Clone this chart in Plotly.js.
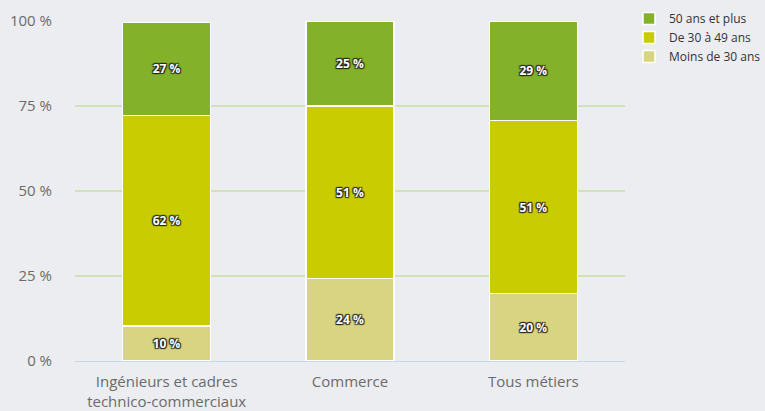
<!DOCTYPE html>
<html><head><meta charset="utf-8">
<script src="https://cdn.plot.ly/plotly-3.0.1.min.js"></script>
<style>html,body{margin:0;padding:0;background:#ecedf0;}</style>
</head><body>
<div id="chart" style="width:765px;height:411px;"></div>
<script>
const categories = ["Ingénieurs et cadres<br>technico-commerciaux", "Commerce", "Tous métiers"];
const moins30 = [10.3, 24.2, 19.8];
const de30a49 = [61.9, 50.8, 50.9];
const plus50 = [27.4, 25.0, 29.3];
const labelsMoins30 = ["10 %", "24 %", "20 %"];
const labelsDe30a49 = ["62 %", "51 %", "51 %"];
const labelsPlus50 = ["27 %", "25 %", "29 %"];
const seriesNames = ["Moins de 30 ans", "De 30 à 49 ans", "50 ans et plus"];
const colors = ["#d9d482", "#c8cc00", "#84b12a"];
const yTicks = [0, 25, 50, 75, 100];
const yTickLabels = ["0 %", "25 %", "50 %", "75 %", "100 %"];

const textFont = {family: "Open Sans, sans-serif", size: 12, color: "#ffffff", weight: 700,
  shadow: "1px 1px 1px #222, -1px -1px 1px #222, 1px -1px 1px #222, -1px 1px 1px #222"};

function mk(vals, labels, name, color) {
  return {type: "bar", x: categories, y: vals, name: name, text: labels,
    textposition: "inside", insidetextanchor: "middle", textangle: 0,
    textfont: textFont, hoverinfo: "none",
    marker: {color: color, line: {color: "#ffffff", width: 1.5}}, width: 0.48};
}
const data = [
  mk(moins30, labelsMoins30, seriesNames[0], colors[0]),
  mk(de30a49, labelsDe30a49, seriesNames[1], colors[1]),
  mk(plus50, labelsPlus50, seriesNames[2], colors[2])
];
const layout = {
  width: 765, height: 411, barmode: "stack",
  paper_bgcolor: "#ecedf0", plot_bgcolor: "#ecedf0",
  margin: {l: 75, r: 140, t: 21, b: 50, autoexpand: false},
  font: {family: "Open Sans, sans-serif", color: "#6b6b6b", size: 14},
  xaxis: {showgrid: false, showline: true, linecolor: "#cdd8e4", linewidth: 1,
    ticks: "", ticklabelstandoff: 7, tickfont: {size: 15, color: "#6b6b6b"}, automargin: false},
  yaxis: {range: [0, 100], tickvals: yTicks, ticktext: yTickLabels,
    showgrid: true, gridcolor: "#d3e2b6", gridwidth: 1.5, zeroline: false,
    ticks: "", ticklabelstandoff: 22, tickfont: {size: 15, color: "#6b6b6b"}, automargin: false},
  legend: {x: 0.0, xref: "container", xanchor: "left", y: 1.0, yref: "container", yanchor: "top",
    traceorder: "reversed",
    font: {size: 12, color: "#333333"}, itemwidth: 30, tracegroupgap: 0, bgcolor: "rgba(0,0,0,0)"},
  showlegend: true
};
layout.legend.x = 629 / 765;
layout.legend.y = 1 - 4 / 411;
Plotly.newPlot("chart", data, layout, {displayModeBar: false, staticPlot: true});
</script>
</body></html>
